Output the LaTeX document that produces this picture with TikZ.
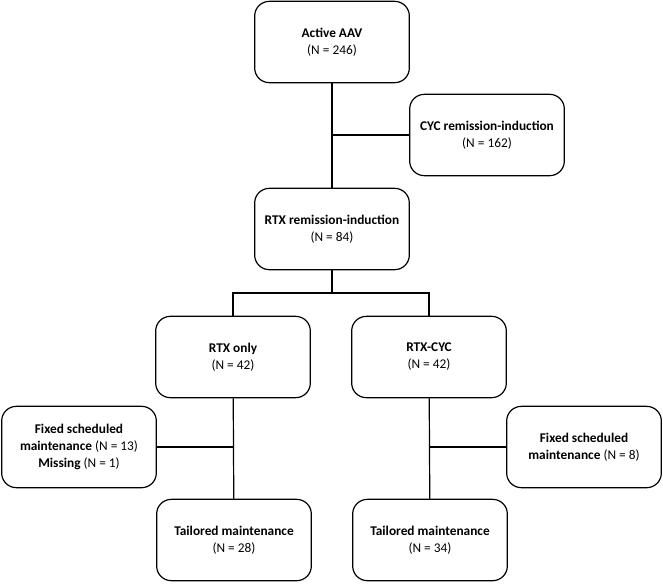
\documentclass[tikz,border=0pt]{standalone}
\usepackage{fontspec}
\setmainfont{Carlito}
\begin{document}
\begin{tikzpicture}[x=0.75pt, y=-0.75pt,
	flowbox/.style = {draw, line width=0.9pt, rounded corners=11pt, align=center,
		minimum width=116pt, minimum height=61pt, inner sep=2pt,
		font=\fontsize{10}{12.8}\selectfont},
	link/.style = {line width=0.9pt}]

	\useasboundingbox (0,0) rectangle (663,583);

	% induction
	\node[flowbox] (aav) at (332,42) {\textbf{Active AAV}\\(N = 246)};
	\node[flowbox] (cyc) at (487,135) {\textbf{CYC remission-induction}\\(N = 162)};
	\node[flowbox] (rtx) at (332,229) {\textbf{RTX remission-induction}\\(N = 84)};

	% RTX arms
	\node[flowbox] (rtxonly) at (233,357) {\textbf{RTX only}\\(N = 42)};
	\node[flowbox] (rtxcyc) at (429,357) {\textbf{RTX-CYC}\\(N = 42)};

	% maintenance
	\node[flowbox] (fixleft) at (79,447) {\textbf{Fixed scheduled}\\\textbf{maintenance} (N = 13)\\\textbf{Missing} (N = 1)};
	\node[flowbox] (fixright) at (584,447) {\textbf{Fixed scheduled}\\\textbf{maintenance} (N = 8)};
	\node[flowbox] (tailleft) at (234,540) {\textbf{Tailored maintenance}\\(N = 28)};
	\node[flowbox] (tailright) at (430,540) {\textbf{Tailored maintenance}\\(N = 34)};

	\coordinate (split) at (332,293);

	\draw[link] (aav) -- (rtx);
	\draw[link] (cyc.west) -- (cyc.west -| aav.south);
	\draw[link] (rtx) -- (split);
	\draw[link] (rtxonly.north) |- (split) -| (rtxcyc.north);
	\draw[link] (rtxonly) -- (tailleft);
	\draw[link] (rtxcyc) -- (tailright);
	\draw[link] (fixleft.east) -- (fixleft.east -| rtxonly.south);
	\draw[link] (fixright.west) -- (fixright.west -| rtxcyc.south);
\end{tikzpicture}
\end{document}
